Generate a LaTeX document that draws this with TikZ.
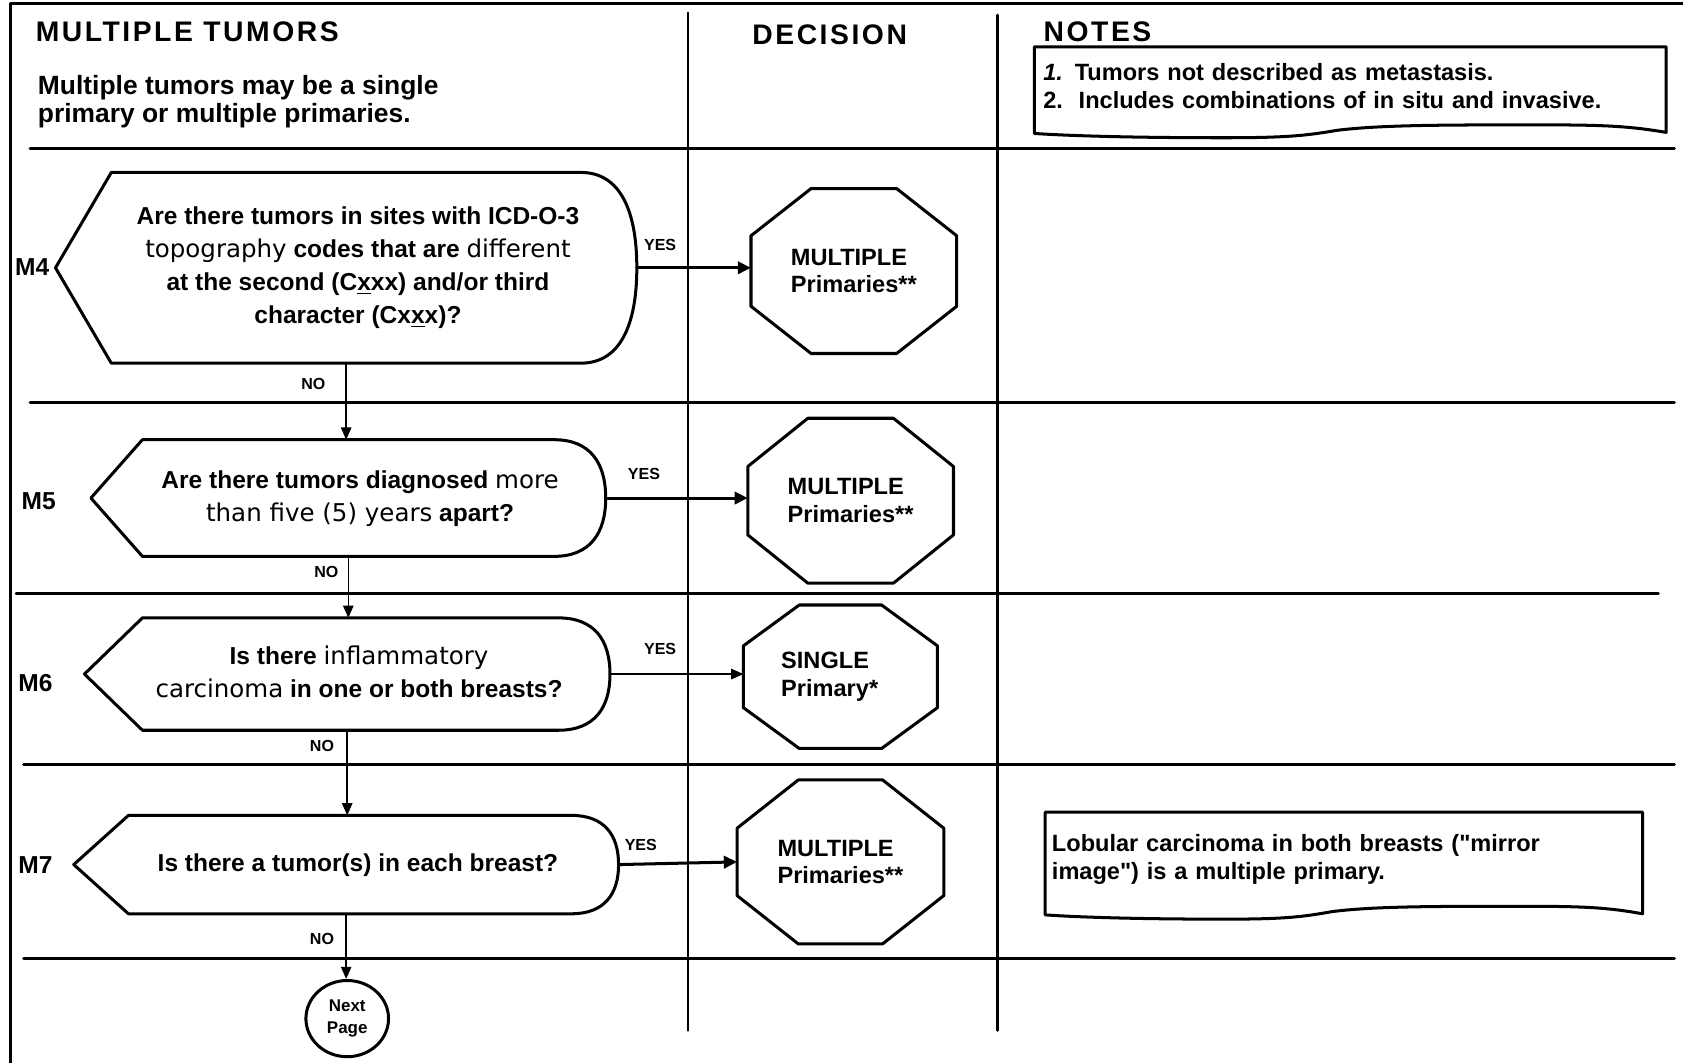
\documentclass[tikz,border=0pt]{standalone}
\usepackage{fontspec}
\setmainfont{Liberation Sans}[Ligatures=TeXOff]
\newfontfamily\headfont{Liberation Sans}[LetterSpace=9]
\newfontfamily\roundfont{DejaVu Sans}
\usetikzlibrary{arrows.meta,calc,positioning,shapes.geometric}
% wide words inside the questions
\newcommand{\rnd}[1]{{\roundfont\mdseries #1}}
% question text, a little right of the shape centre
\newcommand{\asktext}[1]{\hspace{.44cm}\begin{tabular}{@{}c@{}}#1\end{tabular}}
% question outline: pointed left end, rounded right end
\newcommand{\askshape}[3]{%
  \draw[outline] let \p1=(#1.north east), \p2=(#1.south west), \n1={0.5*(\y1-\y2)} in
    (\x2,\y2+\n1) -- (\x2+#2,\y1) -- (\x1-#3,\y1)
    .. controls (\x1-.3*#3,\y1) and (\x1,\y1-.4*\n1) .. (\x1,\y1-\n1)
    .. controls (\x1,\y2+.4*\n1) and (\x1-.3*#3,\y2) .. (\x1-#3,\y2)
    -- (\x2+#2,\y2) -- cycle;}
% decision outline: octagon
\newcommand{\stopsign}[3]{%
  \draw[outline] let \p1=(#1.north east), \p2=(#1.south west) in
    (\x2+#2,\y1) -- (\x1-#2,\y1) -- (\x1,\y1-#3) -- (\x1,\y2+#3)
    -- (\x1-#2,\y2) -- (\x2+#2,\y2) -- (\x2,\y2+#3) -- (\x2,\y1-#3) -- cycle;}
% note sheet with a torn lower edge
\newcommand{\tornnote}[1]{%
  \draw[outline] let \p1=(#1.north east), \p2=(#1.south west), \n1={\x1-\x2} in
    (\x2,\y2-.16cm) -- (\x2,\y1) -- (\x1,\y1) -- (\x1,\y2-.14cm)
    .. controls (\x1-.06*\n1,\y2-.02cm) and (\x1-.1*\n1,\y2) .. (\x1-.2*\n1,\y2)
    .. controls (\x1-.35*\n1,\y2) and (\x1-.45*\n1,\y2) .. (\x1-.52*\n1,\y2-.1cm)
    .. controls (\x1-.57*\n1,\y2-.2cm) and (\x1-.6*\n1,\y2-.24cm) .. (\x1-.7*\n1,\y2-.24cm)
    .. controls (\x1-.85*\n1,\y2-.24cm) and (\x1-.95*\n1,\y2-.2cm) .. (\x2,\y2-.16cm);}

\begin{document}
\begin{tikzpicture}[x=0.02cm,y=-0.02cm,line cap=round,line join=round,
  font=\bfseries\fontsize{13}{17.5}\selectfont,
  frame/.style={line width=1.5pt},
  outline/.style={line width=1.6pt},
  flow/.style={-{Triangle[length=6.5pt,width=5.5pt]},line width=.8pt},
  yesflow/.style={-{Triangle[length=7pt,width=6.5pt]},line width=1.6pt},
  ask/.style={inner sep=0pt},
  verdict/.style={inner sep=0pt,align=left,font=\bfseries\fontsize{12.5}{14.7}\selectfont},
  answer/.style={inner sep=1pt,font=\bfseries\fontsize{8.5}{10}\selectfont},
  rowlab/.style={inner sep=0pt,font=\bfseries\fontsize{13}{15}\selectfont},
  head/.style={inner sep=0pt,font=\headfont\bfseries\fontsize{15}{18}\selectfont},
  note/.style={inner ysep=0pt,align=left,font=\bfseries\fontsize{12.5}{15}\selectfont}]
\path[use as bounding box] (0,0) rectangle (1568,990);
\fill[white] (0,0) rectangle (1568,990);
% frame and column rules
\draw[frame] (10,990) -- (10,3) -- (1568,3);
\draw[frame] (641,12) -- (641,960);
\draw[frame] (929,14) -- (929,960);
\foreach \y/\xa/\xb in {138/28/1560,375/28/1560,553/15/1545,712/22/1560,893/22/1560}
  \draw[frame] (\xa,\y) -- (\xb,\y);
% headings
\node[head,anchor=west] (title) at (33,30) {MULTIPLE TUMORS};
\node[anchor=west,inner sep=0pt,align=left,font=\bfseries\fontsize{14}{14.7}\selectfont] (intro) at (35,95)
  {Multiple tumors may be a single\\primary or multiple primaries.};
\node[head] (dechead) at (773,32) {DECISION};
\node[head,anchor=west] (notehead) at (972,30) {NOTES};
\node[note,text width=11.44cm,inner xsep=.16cm,minimum height=1.44cm] (note1) at (1258,80)
  {\textit{1.} Tumors not described as metastasis.\\2.\ \ Includes combinations of in situ and invasive.};
\tornnote{note1}
% M4
\node[rowlab] (lab4) at (30,249) {M4};
\node[ask,minimum width=10.82cm,minimum height=3.54cm] (q4) at (322.5,249.5)
  {\asktext{Are there tumors in sites with ICD-O-3\\\rnd{topography} codes that are \rnd{different}\\at the second (C\underline{x}xx) and/or third\\character (Cx\underline{x}x)?}};
\askshape{q4}{1.04cm}{1.04cm}
\node[verdict,minimum width=3.82cm,minimum height=3.06cm] (d4) at (795.5,252.5) {MULTIPLE\\Primaries**};
\stopsign{d4}{1.12cm}{.88cm}
% M5
\node[rowlab] (lab5) at (36,467) {M5};
\node[ask,minimum width=9.58cm,minimum height=2.16cm] (q5) at (324.5,464)
  {\asktext{Are there tumors diagnosed \rnd{more}\\\rnd{than five (5) years} apart?}};
\askshape{q5}{.96cm}{.96cm}
\node[verdict,minimum width=3.82cm,minimum height=3.06cm] (d5) at (792.5,466.5) {MULTIPLE\\Primaries**};
\stopsign{d5}{1.12cm}{.9cm}
% M6
\node[rowlab] (lab6) at (33,636) {M6};
\node[ask,minimum width=9.78cm,minimum height=2.08cm] (q6) at (323.5,628)
  {\asktext{Is there \rnd{inflammatory}\\\rnd{carcinoma} in one or both breasts?}};
\askshape{q6}{1.08cm}{.96cm}
\node[verdict,minimum width=3.6cm,minimum height=2.66cm] (d6) at (783,630.5) {SINGLE\\Primary*\hspace*{.4cm}};
\stopsign{d6}{1.04cm}{.76cm}
% M7
\node[rowlab] (lab7) at (33,806) {M7};
\node[ask,minimum width=10.14cm,minimum height=1.82cm] (q7) at (322.5,805.5)
  {\asktext{Is there a tumor(s) in each breast?}};
\askshape{q7}{1.02cm}{.88cm}
\node[verdict,minimum width=3.84cm,minimum height=3.04cm] (d7) at (783,803) {MULTIPLE\\Primaries**};
\stopsign{d7}{1.14cm}{.9cm}
\node[note,text width=10.88cm,inner xsep=.12cm,minimum height=1.74cm] (note7) at (1252,800.5)
  {Lobular carcinoma in both breasts ("mirror\\image") is a multiple primary.};
\tornnote{note7}
\node[draw,ellipse,line width=1.6pt,minimum width=1.54cm,minimum height=1.42cm,inner sep=0pt,
  align=center,font=\bfseries\fontsize{9}{11.3}\selectfont] (next) at (323.5,949) {Next\\Page};
% YES branches
\draw[yesflow] (q4.east) -- (q4.east -| d4.west);
\draw[yesflow] (q5.east) -- (q5.east -| d5.west);
\draw[flow] (q6.east) -- (q6.east -| d6.west);
\draw[yesflow] (q7.east) -- (d7.west);
\node[answer] (yes4) at (615,228) {YES};
\node[answer] (yes5) at (600,442) {YES};
\node[answer] (yes6) at (615,605) {YES};
\node[answer] (yes7) at (597,787) {YES};
% NO branches
\draw[flow] (q4.south) -- (q4.south |- q5.north);
\draw[flow] (q5.south) -- (q5.south |- q6.north);
\draw[flow] (q6.south) -- (q6.south |- q7.north);
\draw[flow] (q7.south) -- (q7.south |- next.north);
\node[answer] (no4) at (292,358) {NO};
\node[answer] (no5) at (304,533) {NO};
\node[answer] (no6) at (300,695) {NO};
\node[answer] (no7) at (300,875) {NO};
\end{tikzpicture}
\end{document}
